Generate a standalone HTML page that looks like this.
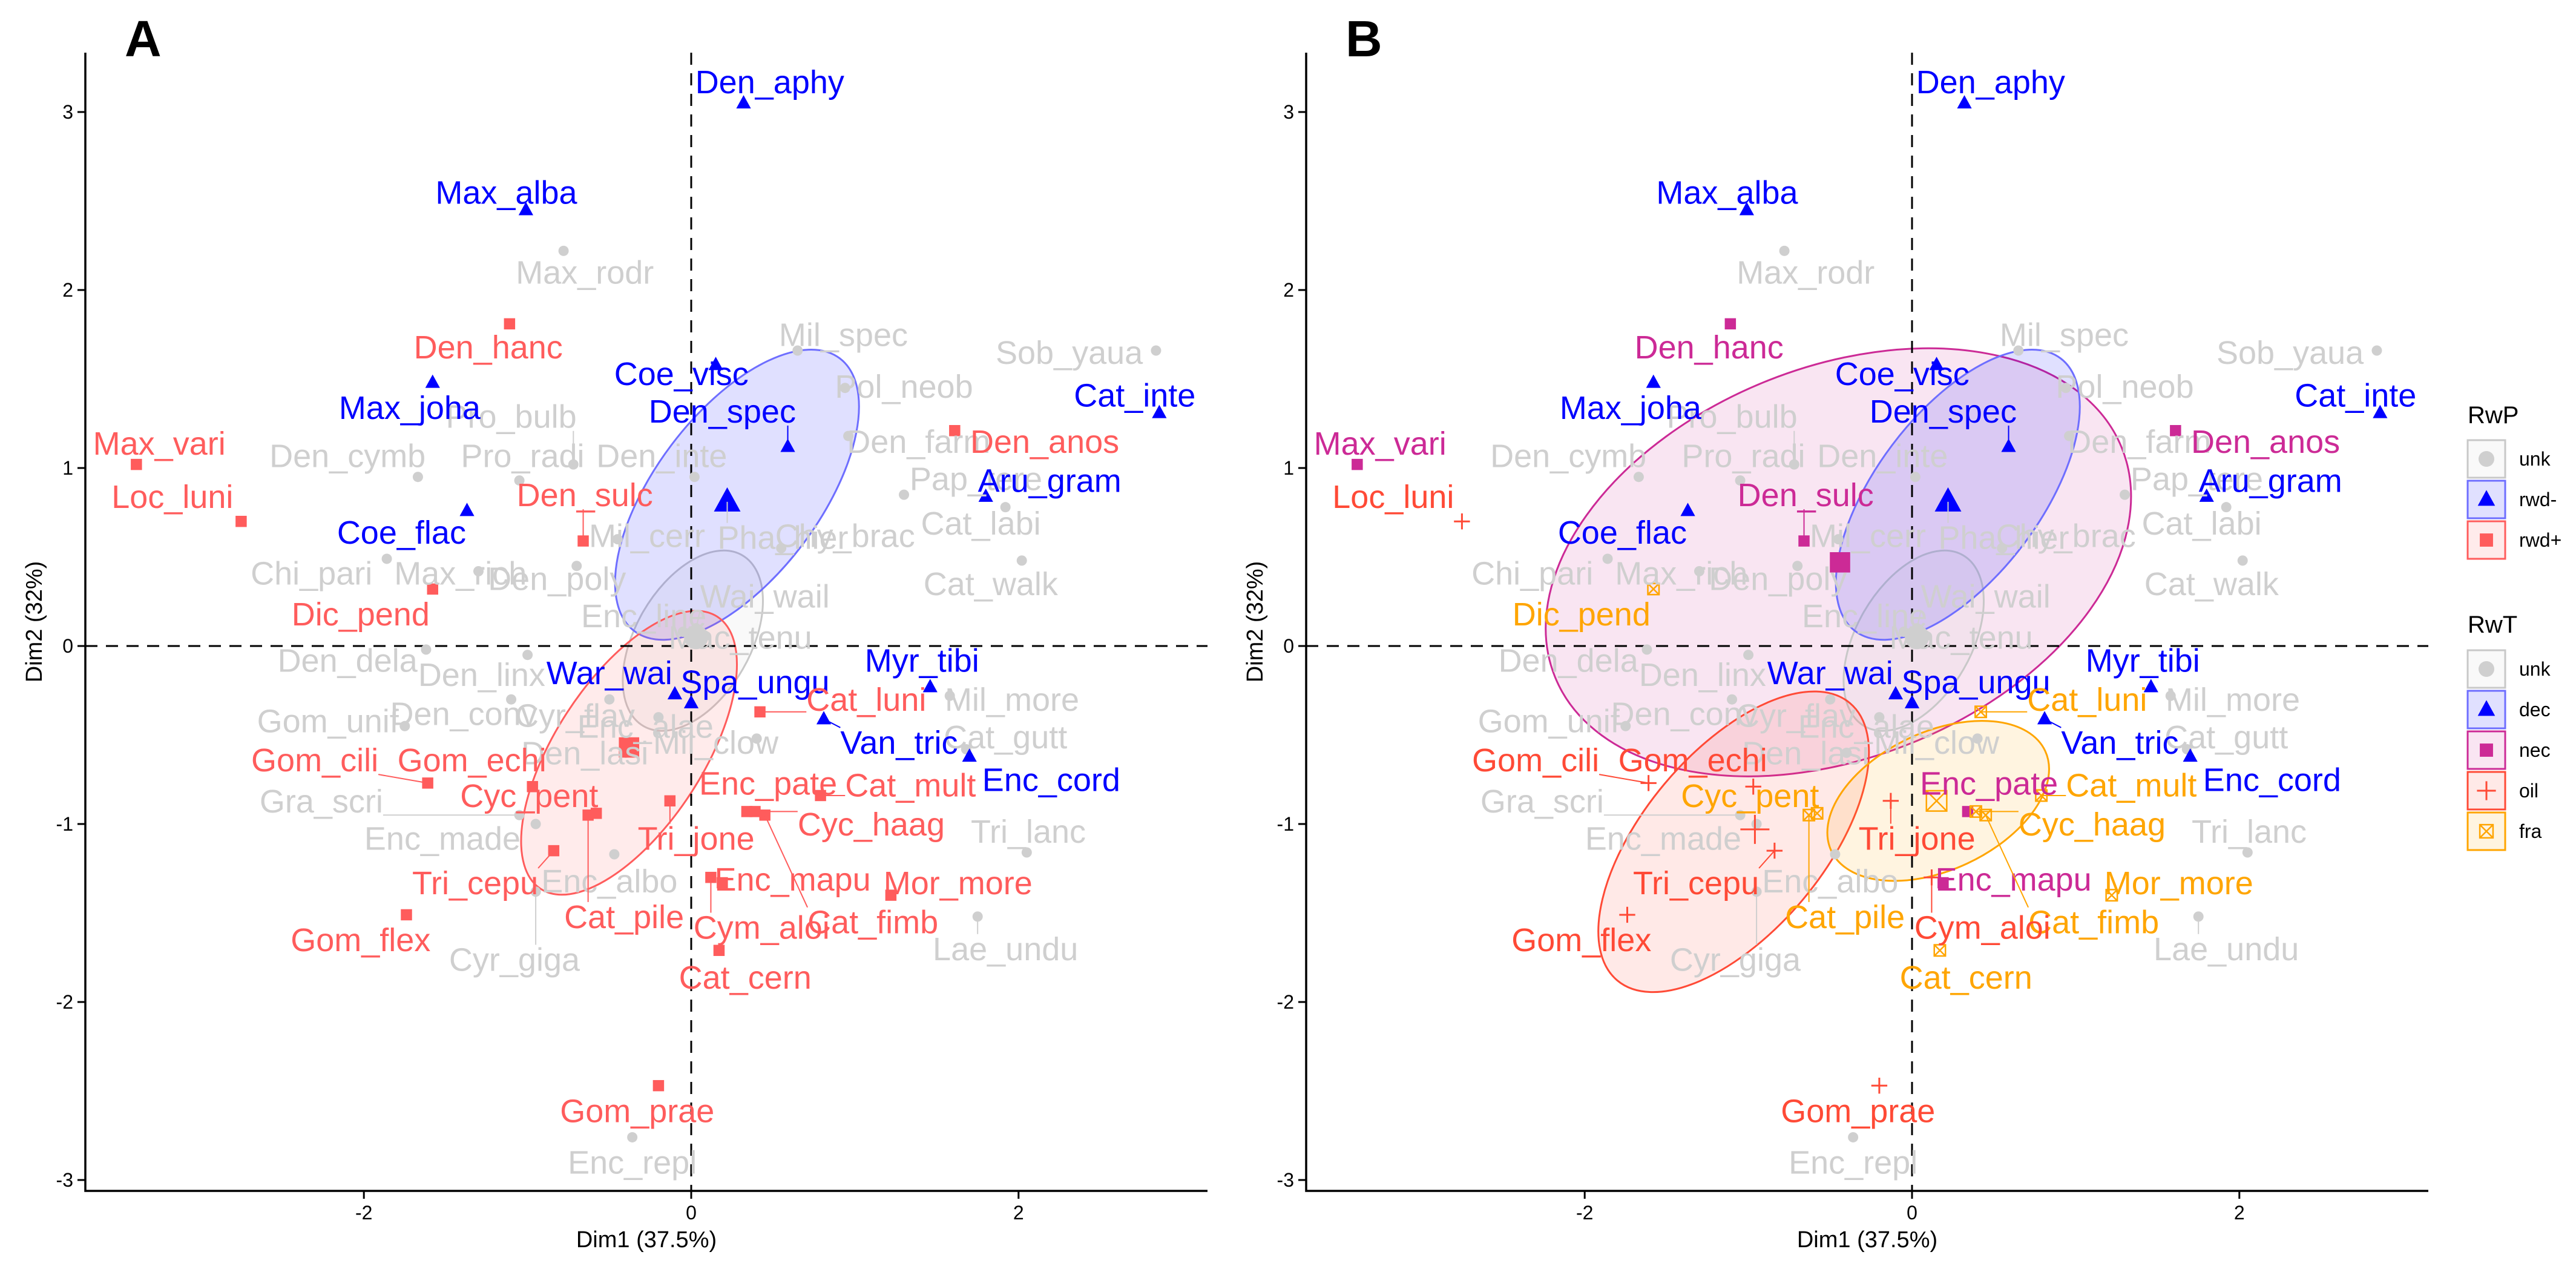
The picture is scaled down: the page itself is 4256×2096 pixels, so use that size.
<!DOCTYPE html>
<html><head><meta charset="utf-8"><style>
html,body{margin:0;padding:0;background:#fff;}
svg{display:block;font-family:"Liberation Sans",Arial,sans-serif;}
</style></head><body>
<svg id="chart" xmlns="http://www.w3.org/2000/svg" width="4256" height="2096" viewBox="0 0 4256 2096">
<rect width="4256" height="2096" fill="#fff"/>
<g id="layer"></g>
</svg>
<script>
// ---- data ----
const names = ["Den_aphy","Max_alba","Coe_visc","Den_spec","Max_joha","Cat_inte","Aru_gram","Coe_flac","Myr_tibi","Van_tric","Enc_cord","War_wai","Spa_ungu",
"Max_vari","Den_hanc","Den_anos","Loc_luni","Den_sulc","Dic_pend","Cat_luni","Gom_cili","Gom_echi","Cyc_pent","Tri_jone","Enc_pate","Cat_mult","Cyc_haag","Tri_cepu","Enc_mapu","Mor_more","Cat_fimb","Cat_pile","Gom_flex","Cym_aloi","Cat_cern","Gom_prae",
"Max_rodr","Mil_spec","Pol_neob","Sob_yaua","Pro_bulb","Den_cymb","Pro_radi","Den_inte","Den_farm","Pap_tere","Cat_labi","Chy_brac","Mil_cerr","Chi_pari","Max_rich","Den_poly","Cat_walk","Wai_wail","Enc_line","Mac_tenu","Den_dela","Den_linx","Gom_unif","Den_conv","Cyr_flav","Mil_more","Enc_alae","Mil_clow","Cat_gutt","Den_lasi","Gra_scri","Enc_made","Tri_lanc","Enc_albo","Lae_undu","Cyr_giga","Enc_repl","Pha_hier"];
const dim1 = [0.32,-1.01,0.15,0.59,-1.58,2.86,1.80,-1.37,1.46,0.81,1.70,-0.10,0.00,
-3.39,-1.11,1.61,-2.75,-0.66,-1.58,0.42,-1.61,-0.97,-0.58,-0.13,0.34,0.79,0.39,-0.84,0.19,1.22,0.45,-0.63,-1.74,0.12,0.17,-0.20,
-0.78,0.65,0.94,2.84,-0.72,-1.67,-1.05,0.02,0.96,1.30,1.92,0.55,-0.45,-1.86,-1.30,-0.70,2.02,0.03,-0.05,0.08,-1.62,-1.00,-1.75,-1.10,-0.50,1.58,-0.20,0.40,1.68,-0.40,-1.05,-0.95,2.05,-0.47,1.75,-0.95,-0.36,0.22];
const dim2 = [3.05,2.45,1.58,1.12,1.48,1.31,0.84,0.76,-0.23,-0.41,-0.62,-0.27,-0.32,
1.02,1.81,1.21,0.70,0.59,0.32,-0.37,-0.77,-0.79,-0.94,-0.87,-0.93,-0.84,-0.93,-1.15,-1.33,-1.40,-0.95,-0.95,-1.51,-1.30,-1.71,-2.47,
2.22,1.66,1.45,1.66,1.02,0.95,0.93,0.95,1.18,0.85,0.78,0.55,0.60,0.49,0.42,0.45,0.48,0.10,0.08,0.06,-0.02,-0.05,-0.45,-0.30,-0.30,-0.28,-0.40,-0.52,-0.58,-0.60,-0.95,-1.00,-1.16,-1.17,-1.52,-1.38,-2.76,0.81];
const labelDim1 = [0.48,-1.13,-0.06,0.19,-1.72,2.71,2.19,-1.77,1.41,1.27,2.20,-0.50,0.39,
-3.25,-1.24,2.16,-3.17,-0.65,-2.02,1.07,-2.30,-1.34,-0.99,0.03,0.47,1.34,1.10,-1.32,0.62,1.63,1.11,-0.41,-2.02,0.43,0.33,-0.33,
-0.65,0.93,1.30,2.31,-1.10,-2.10,-1.03,-0.18,1.39,1.74,1.77,0.94,-0.27,-2.32,-1.41,-0.82,1.83,0.45,-0.29,0.30,-2.10,-1.28,-2.22,-1.39,-0.71,1.96,-0.28,0.15,1.92,-0.65,-2.26,-1.52,2.06,-0.50,1.92,-1.08,-0.36,0.56];
const labelDim2 = [3.17,2.55,1.53,1.32,1.34,1.41,0.93,0.64,-0.08,-0.54,-0.75,-0.15,-0.20,
1.14,1.68,1.15,0.84,0.85,0.18,-0.30,-0.64,-0.64,-0.84,-1.08,-0.77,-0.78,-1.00,-1.33,-1.31,-1.33,-1.55,-1.52,-1.65,-1.58,-1.86,-2.61,
2.10,1.75,1.46,1.65,1.29,1.07,1.07,1.07,1.15,0.94,0.69,0.62,0.62,0.41,0.41,0.38,0.35,0.28,0.17,0.05,-0.08,-0.16,-0.42,-0.38,-0.39,-0.30,-0.45,-0.54,-0.51,-0.60,-0.87,-1.08,-1.04,-1.32,-1.70,-1.76,-2.90,0.61];
const groupRwP = [];
const groupRwT = [];
const blueN = 13, redN = 23;
const rwtRed = ["nec","nec","nec","oil","nec","fra","fra","oil","oil","fra","oil","nec","fra","fra","oil","nec","fra","fra","fra","oil","oil","fra","oil"];
for (let i = 0; i < names.length; i++) {
  if (i < blueN) { groupRwP.push("rwd-"); groupRwT.push("dec"); }
  else if (i < blueN + redN) { groupRwP.push("rwd+"); groupRwT.push(rwtRed[i - blueN]); }
  else { groupRwP.push("unk"); groupRwT.push("unk"); }
}
// ellipses (center in data units; radii in px, rotation deg)
const ellGroupsA = ["unk","rwd-","rwd+"];
const ellCxA = [0.01,0.28,-0.38], ellCyA = [0.03,0.85,-0.60];
const ellRxA = [163,282,268], ellRyA = [95,136,122], ellRotA = [-60,-53,-57];
const ellGroupsB = ["nec","unk","dec","oil","fra"];
const ellCxB = [-0.45,0.01,0.28,-1.09,0.16], ellCyB = [0.47,0.03,0.85,-1.10,-0.87];
const ellRxB = [505,163,282,299,195], ellRyB = [322,95,136,149,114], ellRotB = [-22,-60,-53,-50,-25];
const centGroupsA = ["unk","rwd-","rwd+"], centXA = [0.03,0.22,-0.38], centYA = [0.05,0.81,-0.57];
const centGroupsB = ["unk","dec","nec","oil","fra"], centXB = [0.03,0.22,-0.44,-0.96,0.15], centYB = [0.05,0.81,0.47,-1.03,-0.87];
const xTicks = [-2,0,2], yTicks = [-3,-2,-1,0,1,2,3];

const colors = {"unk":"#cfcfcf","rwd-":"#0000ff","dec":"#0000ff","rwd+":"#ff5c5c","nec":"#cc2a96","oil":"#ff4a36","fra":"#ffa500"};
const strokes = {"unk":"#c8c8c8","rwd-":"#6e6eff","dec":"#6e6eff","rwd+":"#ff5c5c","nec":"#cc2a96","oil":"#ff4a36","fra":"#ffa500"};
const shapes = {"unk":"circle","rwd-":"tri","dec":"tri","rwd+":"square","nec":"square","oil":"plus","fra":"boxx"};

const NS = "http://www.w3.org/2000/svg";
const layer = document.getElementById("layer");
const SX = 270.4, SY = 294, Y0 = 1067, TOP = 87, BOT = 1967;
function mk(tag, attrs, parent) {
  const e = document.createElementNS(NS, tag);
  for (const k in attrs) e.setAttribute(k, attrs[k]);
  (parent || layer).appendChild(e);
  return e;
}
function marker(g, grp, x, y, s, parent) {
  const c = colors[grp], sh = shapes[grp];
  let e;
  if (sh === "circle") e = mk("circle", {cx:x, cy:y, r:s*0.5, fill:c}, parent);
  else if (sh === "tri") e = mk("polygon", {points:`${x},${y-s*0.6} ${x-s*0.55},${y+s*0.4} ${x+s*0.55},${y+s*0.4}`, fill:c}, parent);
  else if (sh === "square") e = mk("rect", {x:x-s*0.42, y:y-s*0.42, width:s*0.84, height:s*0.84, fill:c}, parent);
  else if (sh === "plus") e = mk("path", {d:`M${x-s*0.6},${y}H${x+s*0.6}M${x},${y-s*0.6}V${y+s*0.6}`, stroke:c, "stroke-width":3, fill:"none"}, parent);
  else e = mk("path", {d:`M${x-s*0.42},${y-s*0.42}h${s*0.84}v${s*0.84}h${-s*0.84}zM${x-s*0.42},${y-s*0.42}L${x+s*0.42},${y+s*0.42}M${x+s*0.42},${y-s*0.42}L${x-s*0.42},${y+s*0.42}`, stroke:c, "stroke-width":2.5, fill:"none"}, parent);
  return e;
}

function drawPanel(ox, axLeft, letter, groups, eG, eCx, eCy, eRx, eRy, eRot, cG, cX, cY) {
  const X = v => ox + SX * v, Y = v => Y0 - SY * v;
  const axRight = axLeft + 1854;
  const g = mk("g", {});
  
  
  for (let i = 0; i < eG.length; i++) {
    const grp = eG[i];
    const el = mk("ellipse", {cx:0, cy:0, rx:eRx[i], ry:eRy[i], fill:colors[grp], "fill-opacity":0.12, stroke:strokes[grp], "stroke-width":3,
      transform:`translate(${X(eCx[i])},${Y(eCy[i])}) rotate(${eRot[i]})`}, g);
    
    
  }
  const vl = mk("line", {x1:X(0), x2:X(0), y1:TOP, y2:BOT, stroke:"#000", "stroke-width":3, "stroke-dasharray":"20 14"}, g);
  
  
  const hl = mk("line", {x1:axLeft, x2:axRight, y1:Y(0), y2:Y(0), stroke:"#000", "stroke-width":3, "stroke-dasharray":"20 14"}, g);
  
  
  const order = [];
  for (let i = 0; i < names.length; i++) if (groups[i] === "unk") order.push(i);
  for (let i = 0; i < names.length; i++) if (groups[i] !== "unk") order.push(i);
  for (const i of order) {
    const grp = groups[i];
    const m = marker(g, grp, X(dim1[i]), Y(dim2[i]), grp === "unk" ? 17 : 22, g);
    
    
  }
  for (let i = 0; i < cG.length; i++) {
    const m = marker(g, cG[i], X(cX[i]), Y(cY[i]), 40, g);
    
    
  }
  for (const i of order) {
    const grp = groups[i];
    const lx = X(labelDim1[i]), ly = Y(labelDim2[i]);
    const t = mk("text", {x:lx, y:ly + 19, "text-anchor":"middle", "font-size":54, fill:colors[grp]}, g);
    t.textContent = names[i];
    
    
    const w = t.getComputedTextLength ? t.getComputedTextLength() : names[i].length * 30;
    const px = X(dim1[i]), py = Y(dim2[i]);
    const bx = Math.max(lx - w/2, Math.min(px, lx + w/2));
    const by = Math.max(ly - 24, Math.min(py, ly + 24));
    const d = Math.hypot(px - bx, py - by);
    if (d > 26) {
      const s = mk("line", {x1:bx, y1:by, x2:px, y2:py, stroke:colors[grp], "stroke-width":2}, g);
      
      
      g.insertBefore(s, t);
    }
  }
  const ax = mk("path", {d:`M${axLeft},${TOP}V${BOT}H${axRight}`, stroke:"#000", "stroke-width":3.5, fill:"none"}, g);
  
  
  for (const v of xTicks) {
    const tk = mk("line", {x1:X(v), x2:X(v), y1:BOT, y2:BOT + 13, stroke:"#000", "stroke-width":3}, g);
    
    
    const tl = mk("text", {x:X(v), y:BOT + 47, "text-anchor":"middle", "font-size":32, fill:"#000"}, g);
    tl.textContent = String(v);
    
    
  }
  for (const v of yTicks) {
    const tk = mk("line", {x1:axLeft - 13, x2:axLeft, y1:Y(v), y2:Y(v), stroke:"#000", "stroke-width":3}, g);
    
    
    const tl = mk("text", {x:axLeft - 20, y:Y(v) + 11, "text-anchor":"end", "font-size":32, fill:"#000"}, g);
    tl.textContent = String(v);
    
    
  }
  const xt = mk("text", {x:(axLeft + axRight)/2, y:2060, "text-anchor":"middle", "font-size":38, fill:"#000"}, g);
  xt.textContent = "Dim1 (37.5%)";
  
  
  const yt = mk("text", {x:0, y:0, "text-anchor":"middle", "font-size":38, fill:"#000", transform:`translate(${axLeft - 72},${(TOP+BOT)/2}) rotate(-90)`}, g);
  yt.textContent = "Dim2 (32%)";
  
  
  const lt = mk("text", {x:axLeft + 65, y:93, "font-size":84, "font-weight":"bold", fill:"#000"}, g);
  lt.textContent = letter;
  
  
}

drawPanel(1142, 141, "A", groupRwP, ellGroupsA, ellCxA, ellCyA, ellRxA, ellRyA, ellRotA, centGroupsA, centXA, centYA);
drawPanel(3159, 2158, "B", groupRwT, ellGroupsB, ellCxB, ellCyB, ellRxB, ellRyB, ellRotB, centGroupsB, centXB, centYB);

const legP = ["unk","rwd-","rwd+"], legT = ["unk","dec","nec","oil","fra"];
function legend(title, keys, titleY, boxY) {
  const g = mk("g", {});
  
  
  const t = mk("text", {x:4077, y:titleY, "font-size":40, fill:"#000"}, g);
  t.textContent = title;
  
  
  keys.forEach((k, i) => {
    const y = boxY + i * 67;
    const b = mk("rect", {x:4077, y:y, width:62, height:62, fill:colors[k], "fill-opacity":0.12, stroke:strokes[k], "stroke-width":3}, g);
    
    
    const m = marker(g, k, 4108, y + 31, 26, g);
    
    
    const l = mk("text", {x:4162, y:y + 42, "font-size":32, fill:"#000"}, g);
    l.textContent = k;
    
    
  });
}
legend("RwP", legP, 699, 727);
legend("RwT", legT, 1045, 1074);
</script>
</body></html>
